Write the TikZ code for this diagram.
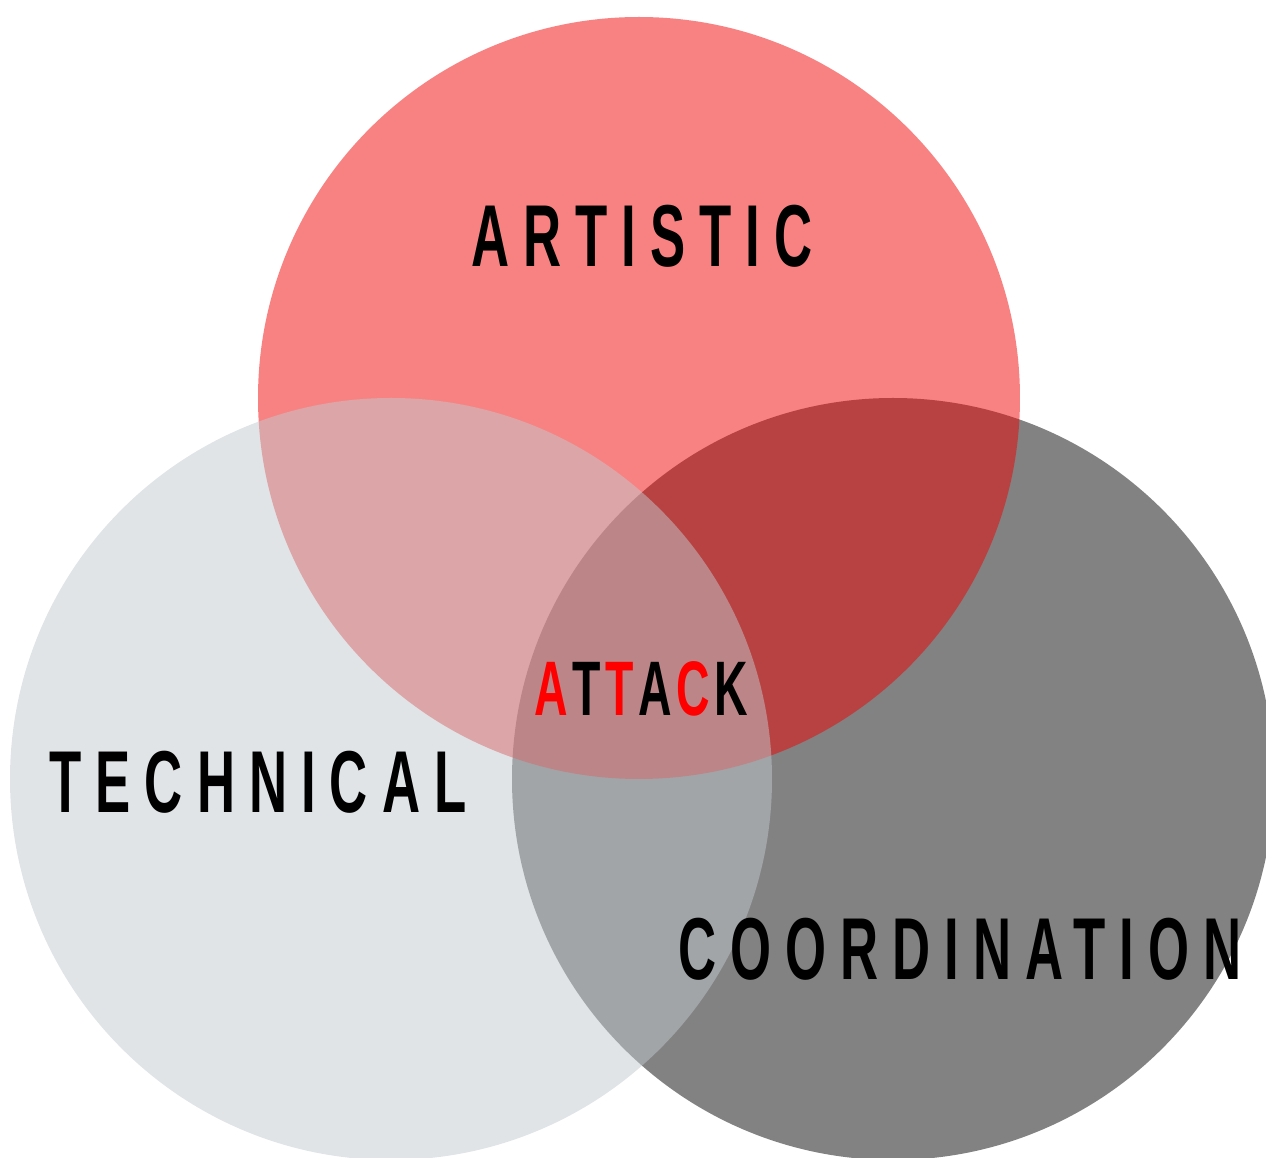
\documentclass[tikz,border=0pt]{standalone}
\usepackage{fontspec}
\usepackage{tikz}
\usepackage{xcolor}
\newfontfamily\vennfont[FakeStretch=0.6,LetterSpace=16]{Liberation Sans Bold}
\newfontfamily\attackfont[FakeStretch=0.6]{Liberation Sans Bold}
\definecolor{artred}{RGB}{241,0,0}
\definecolor{techgray}{RGB}{193,201,207}
\definecolor{coordgray}{RGB}{130,130,130}
\newcommand\lgap{\kern1.3pt}

\begin{document}
\begin{tikzpicture}[
    scale=1,
    word/.style={font=\vennfont\fontsize{25}{25}\selectfont, inner sep=0pt},
    small word/.style={font=\attackfont\fontsize{22}{22}\selectfont, inner sep=0pt}
]
\useasboundingbox (0,0) rectangle (12.66,-11.58);
\fill [coordgray] (8.93,-7.79) circle (3.81);
\fill [artred, opacity=0.49] (6.39,-3.98) circle (3.81);
\fill [techgray, opacity=0.5] (3.91,-7.79) circle (3.81);
\node [word] at (6.42,-2.36) (artistic) {ARTISTIC};
\node [word] at (2.58,-7.82) (technical) {TECHNICAL};
\node [word] at (9.60,-9.49) (coordination) {COORDINATION};
\node [small word] at (6.41,-6.89) (attack) {\textcolor{red}{A}\lgap T\lgap\textcolor{red}{T}\lgap A\lgap\textcolor{red}{C}\lgap K};
\end{tikzpicture}
\end{document}
